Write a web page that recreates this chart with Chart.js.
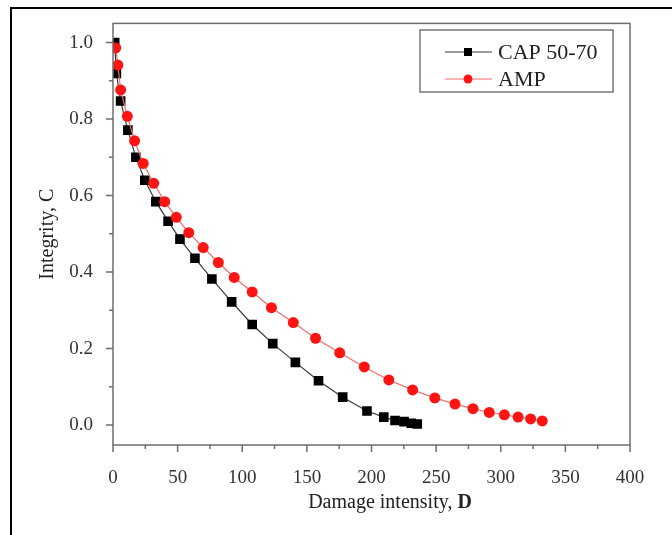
<!DOCTYPE html>
<html>
<head>
<meta charset="utf-8">
<script src="https://cdn.jsdelivr.net/npm/chart.js@4.4.1/dist/chart.umd.min.js"></script>
<style>
  html, body { margin: 0; padding: 0; background: #fff; overflow: hidden; }
  #wrap { position: relative; width: 672px; height: 535px; }
  #frame { position: absolute; left: 10px; top: 7px; width: 700px; height: 600px;
           border-top: 2px solid #000; border-left: 2px solid #000; }
  canvas { position: absolute; left: 0; top: 0; }
</style>
</head>
<body>
<div id="wrap">
  <div id="frame"></div>
  <canvas id="chart" width="672" height="535"></canvas>
</div>
<script>
// data
const capD = [1.3, 2.6, 5.9, 11.5, 17.7, 24.6, 33.1, 42.6, 51.8, 63.4, 76.5, 91.8, 107.7, 123.6, 141.1, 159, 177.7, 196.5, 209.5, 218.2, 225.2, 230.8, 235.4];
const capC = [1.0, 0.919, 0.847, 0.771, 0.700, 0.640, 0.584, 0.533, 0.486, 0.436, 0.382, 0.322, 0.263, 0.213, 0.164, 0.116, 0.073, 0.037, 0.021, 0.012, 0.009, 0.005, 0.003];

const ampD = [2.1, 3.8, 5.9, 11.1, 16.7, 23.4, 31.5, 40, 49, 58.6, 69.8, 81.5, 93.8, 107.7, 122.6, 139.5, 156.7, 175.4, 194.4, 213.4, 231.8, 249, 264.6, 278.5, 291.1, 302.8, 313.4, 323.1, 332.1];
const ampC = [0.986, 0.941, 0.876, 0.807, 0.743, 0.684, 0.632, 0.584, 0.543, 0.503, 0.464, 0.425, 0.386, 0.348, 0.307, 0.268, 0.227, 0.189, 0.152, 0.118, 0.092, 0.071, 0.055, 0.043, 0.033, 0.027, 0.021, 0.016, 0.011];

const xTicks = [0, 25, 50, 75, 100, 125, 150, 175, 200, 225, 250, 275, 300, 325, 350, 375, 400];
const yTicks = [0, 0.1, 0.2, 0.3, 0.4, 0.5, 0.6, 0.7, 0.8, 0.9, 1.0];

const seriesLabels = ["CAP 50-70", "AMP"];
const xTitle = "Damage intensity, ";
const xTitleVar = "D";
const yTitle = "Integrity, C";

const FONT = "'Liberation Serif', 'DejaVu Serif', serif";
const AXIS = "#6e6e6e";

const toPts = (xs, ys) => xs.map((v, i) => ({ x: v, y: ys[i] }));

// box, outward ticks, axis titles, legend
const decor = {
  id: "decor",
  afterDraw(chart) {
    const { ctx, chartArea: a, scales: { x, y } } = chart;
    ctx.save();
    ctx.strokeStyle = AXIS;
    ctx.lineWidth = 1.5;
    ctx.strokeRect(a.left, a.top, a.right - a.left, a.bottom - a.top);

    ctx.beginPath();
    xTicks.forEach(v => {
      const px = x.getPixelForValue(v);
      const len = v % 50 === 0 ? 7 : 4;
      ctx.moveTo(px, a.bottom);
      ctx.lineTo(px, a.bottom + len);
    });
    yTicks.forEach(v => {
      const py = y.getPixelForValue(v);
      const len = Math.round(v * 10) % 2 === 0 ? 7 : 4;
      ctx.moveTo(a.left, py);
      ctx.lineTo(a.left - len, py);
    });
    ctx.stroke();

    // axis titles
    ctx.fillStyle = "#222";
    ctx.font = "20px " + FONT;
    ctx.textBaseline = "middle";
    const w1 = ctx.measureText(xTitle).width;
    ctx.font = "bold 20px " + FONT;
    const w2 = ctx.measureText(xTitleVar).width;
    const x0 = 390 - (w1 + w2) / 2;
    ctx.font = "20px " + FONT;
    ctx.textAlign = "left";
    ctx.fillText(xTitle, x0, 503);
    ctx.font = "bold 20px " + FONT;
    ctx.fillText(xTitleVar, x0 + w1, 503);

    ctx.save();
    ctx.translate(48, (a.top + a.bottom) / 2);
    ctx.rotate(-Math.PI / 2);
    ctx.font = "20px " + FONT;
    ctx.textAlign = "center";
    ctx.fillText(yTitle, 0, 0);
    ctx.restore();

    // legend
    ctx.strokeStyle = "#777";
    ctx.lineWidth = 1.5;
    ctx.strokeRect(420, 30, 193, 62);
    const rows = [52, 79];
    chart.data.datasets.forEach((ds, i) => {
      const ry = rows[i];
      ctx.strokeStyle = ds.borderColor;
      ctx.lineWidth = ds.borderWidth;
      ctx.beginPath();
      ctx.moveTo(445, ry);
      ctx.lineTo(492, ry);
      ctx.stroke();
      ctx.fillStyle = ds.pointBackgroundColor;
      if (ds.pointStyle === "rect") {
        ctx.fillRect(464, ry - 4, 8, 8);
      } else {
        ctx.beginPath();
        ctx.arc(468, ry, 4.5, 0, Math.PI * 2);
        ctx.fill();
      }
      ctx.fillStyle = "#222";
      ctx.font = "22px " + FONT;
      ctx.textAlign = "left";
      ctx.fillText(ds.label, 498, ry + 1);
    });
    ctx.restore();
  }
};

new Chart(document.getElementById("chart"), {
  type: "scatter",
  data: {
    datasets: [
      {
        label: seriesLabels[0],
        data: toPts(capD, capC),
        showLine: true,
        borderColor: "#3a3a3a",
        borderWidth: 1.2,
        pointStyle: "rect",
        pointRadius: 6.8,
        pointBackgroundColor: "#000",
        pointBorderWidth: 0,
        order: 1
      },
      {
        label: seriesLabels[1],
        data: toPts(ampD, ampC),
        showLine: true,
        borderColor: "#f26b6b",
        borderWidth: 1.2,
        pointStyle: "circle",
        pointRadius: 5.5,
        pointBackgroundColor: "#ff1414",
        pointBorderWidth: 0,
        order: 0
      }
    ]
  },
  options: {
    responsive: false,
    animation: false,
    layout: { padding: { top: 23, right: 42, left: 0, bottom: 0 } },
    plugins: { legend: { display: false }, tooltip: { enabled: false } },
    scales: {
      x: {
        type: "linear",
        min: 0,
        max: 400,
        afterBuildTicks: s => { s.ticks = xTicks.map(v => ({ value: v })); },
        afterFit: s => { s.height = 90; },
        grid: { display: false },
        border: { display: false },
        ticks: {
          autoSkip: false,
          maxRotation: 0,
          padding: 14,
          color: "#333",
          font: { family: FONT, size: 19 },
          callback: v => (v % 50 === 0 ? String(v) : "")
        }
      },
      y: {
        type: "linear",
        min: -0.052,
        max: 1.05,
        afterBuildTicks: s => { s.ticks = yTicks.map(v => ({ value: v })); },
        afterFit: s => { s.width = 113; },
        grid: { display: false },
        border: { display: false },
        ticks: {
          autoSkip: false,
          padding: 12,
          color: "#333",
          font: { family: FONT, size: 19 },
          callback: v => (Math.round(v * 10) % 2 === 0 ? v.toFixed(1) : "")
        }
      }
    }
  },
  plugins: [decor]
});
</script>
</body>
</html>
